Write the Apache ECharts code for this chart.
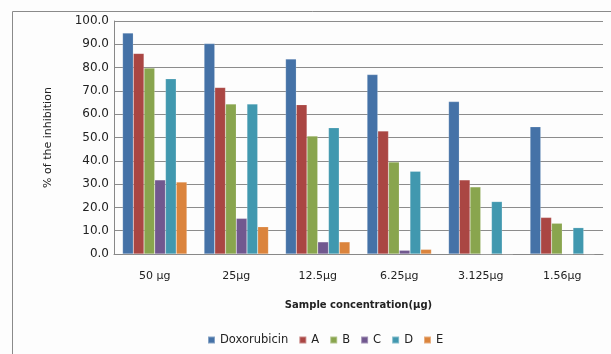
<!DOCTYPE html>
<html>
<head>
<meta charset="utf-8">
<script src="https://cdn.jsdelivr.net/npm/echarts@6/dist/echarts.min.js"></script>
<style>
  html, body { margin: 0; padding: 0; background: #fdfdfd; }
  #chart { width: 611px; height: 354px; }
</style>
</head>
<body>
<div id="chart"></div>
<script>
// Sample concentrations (x categories)
const categories = ['50 µg', '25µg', '12.5µg', '6.25µg', '3.125µg', '1.56µg'];

// % inhibition per compound at each concentration
const doxorubicin = [94.8, 90.3, 83.7, 77.0, 65.4, 54.6];
const seriesA = [86.1, 71.5, 64.1, 52.8, 31.8, 15.7];
const seriesB = [79.8, 64.4, 50.6, 39.5, 28.8, 13.2];
const seriesC = [31.8, 15.3, 5.2, 1.6, 0, 0];
const seriesD = [75.2, 64.4, 54.2, 35.5, 22.5, 11.3];
const seriesE = [30.9, 11.7, 5.2, 2.0, 0, 0];

// y-axis tick range
const yMin = 0, yMax = 100, yStep = 10;

const seriesList = [
  { name: 'Doxorubicin', data: doxorubicin, color: '#4572A7' },
  { name: 'A', data: seriesA, color: '#AA4643' },
  { name: 'B', data: seriesB, color: '#89A54E' },
  { name: 'C', data: seriesC, color: '#71588F' },
  { name: 'D', data: seriesD, color: '#4198AF' },
  { name: 'E', data: seriesE, color: '#DB843D' }
];

const font = 'DejaVu Sans';
const chart = echarts.init(document.getElementById('chart'));
chart.setOption({
  backgroundColor: '#fdfdfd',
  animation: false,
  textStyle: { fontFamily: font },
  graphic: [{
    type: 'rect',
    shape: { x: 12.5, y: 11.5, width: 700, height: 400 },
    style: { fill: 'none', stroke: '#8a8a8a', lineWidth: 1 },
    silent: true
  }],
  grid: { left: 114, right: 8, top: 21, bottom: 100 },
  legend: {
    bottom: 3,
    left: 202,
    itemWidth: 7,
    itemHeight: 7,
    itemGap: 10,
    icon: 'rect',
    textStyle: { fontFamily: font, fontSize: 11.5, color: '#222' },
    data: seriesList.map(s => s.name)
  },
  xAxis: {
    type: 'category',
    data: categories,
    name: 'Sample concentration(µg)',
    nameLocation: 'middle',
    nameGap: 46,
    nameTextStyle: { fontFamily: font, fontSize: 10, fontWeight: 'bold', color: '#222' },
    axisLine: { lineStyle: { color: '#888', width: 1 } },
    axisTick: { show: false },
    axisLabel: { margin: 17, fontFamily: font, fontSize: 11, color: '#222' }
  },
  yAxis: {
    type: 'value',
    min: yMin,
    max: yMax,
    interval: yStep,
    name: '% of the inhibition',
    nameLocation: 'middle',
    nameGap: 60,
    nameRotate: 90,
    nameTextStyle: { fontFamily: font, fontSize: 11, color: '#222' },
    axisLine: { show: true, lineStyle: { color: '#888', width: 1 } },
    axisTick: { show: false },
    splitLine: { lineStyle: { color: '#8c8c8c', width: 1 } },
    axisLabel: {
      margin: 5,
      fontFamily: font,
      fontSize: 12,
      color: '#222',
      formatter: v => v.toFixed(1)
    }
  },
  series: seriesList.map(s => ({
    name: s.name,
    type: 'bar',
    data: s.data,
    barGap: '0%',
    barCategoryGap: '21%',
    itemStyle: { color: s.color, borderColor: 'rgba(255,255,255,0.35)', borderWidth: 0.5 }
  }))
});
</script>
</body>
</html>
